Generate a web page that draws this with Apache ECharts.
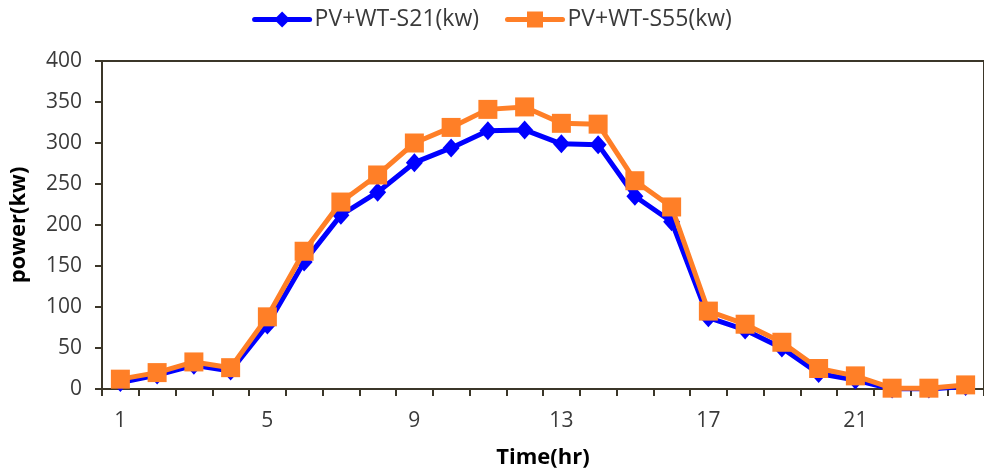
<!DOCTYPE html>
<html>
<head>
<meta charset="utf-8">
<script src="https://cdn.jsdelivr.net/npm/echarts@6/dist/echarts.min.js"></script>
<style>html,body{margin:0;padding:0;background:#fff}#c{width:984px;height:474px}</style>
</head>
<body>
<div id="c"></div>
<script>
var hours = ['1','2','3','4','5','6','7','8','9','10','11','12','13','14','15','16','17','18','19','20','21','22','23','24'];
var s21 = [8,17,29,22,78,155,212,240,276,294,315,316,299,298,235,204,87,72,50,19,11,0,0,3];
var s55 = [12,20,33,26,88,168,228,261,300,319,341,344,324,323,254,222,95,79,57,25,16,1,1,5];
var yTicks = {min:0, max:400, interval:50};

var axisColor = '#3b3629';
var labelColor = '#3a3a3a';
var font = 'Open Sans';

var chart = echarts.init(document.getElementById('c'), null, {renderer:'canvas'});
chart.setOption({
  animation: false,
  backgroundColor: '#ffffff',
  legend: {
    top: 3,
    left: 'center',
    itemWidth: 55,
    itemHeight: 20,
    itemGap: 26,
    lineStyle: {width: 5, cap: 'round'},
    textStyle: {fontFamily: font, fontSize: 23, color: labelColor},
    data: ['PV+WT-S21(kw)', 'PV+WT-S55(kw)']
  },
  grid: {
    left: 102, top: 61, right: -7, bottom: 85,
    show: true, borderColor: axisColor, borderWidth: 2, backgroundColor: 'transparent'
  },
  xAxis: {
    type: 'category',
    data: hours,
    boundaryGap: true,
    name: 'Time(hr)',
    nameLocation: 'middle',
    nameGap: 58,
    nameTextStyle: {fontFamily: font, fontSize: 22, fontWeight: 'bold', color: '#000'},
    axisLine: {lineStyle: {color: axisColor, width: 2}},
    axisTick: {show: true, interval: 0, length: 7, lineStyle: {color: axisColor, width: 2}},
    axisLabel: {interval: 3, fontFamily: font, fontSize: 21, color: labelColor, margin: 22},
    splitLine: {show: false}
  },
  yAxis: {
    type: 'value',
    min: yTicks.min, max: yTicks.max, interval: yTicks.interval,
    name: 'power(kw)',
    nameLocation: 'middle',
    nameGap: 72,
    nameRotate: 90,
    nameTextStyle: {fontFamily: font, fontSize: 22, fontWeight: 'bold', color: '#000'},
    axisLine: {show: true, lineStyle: {color: axisColor, width: 2}},
    axisTick: {show: true, length: 7, lineStyle: {color: axisColor, width: 2}},
    axisLabel: {fontFamily: font, fontSize: 21, color: labelColor, margin: 20},
    splitLine: {show: false}
  },
  series: [
    {
      name: 'PV+WT-S21(kw)',
      type: 'line',
      data: s21,
      symbol: 'diamond',
      symbolSize: [17, 19],
      lineStyle: {color: '#0000ff', width: 5},
      itemStyle: {color: '#0000ff'},
      z: 2
    },
    {
      name: 'PV+WT-S55(kw)',
      type: 'line',
      data: s55,
      symbol: 'rect',
      symbolSize: 19,
      lineStyle: {color: '#ff7f27', width: 5},
      itemStyle: {color: '#ff7f27'},
      z: 3
    }
  ]
});
</script>
</body>
</html>
